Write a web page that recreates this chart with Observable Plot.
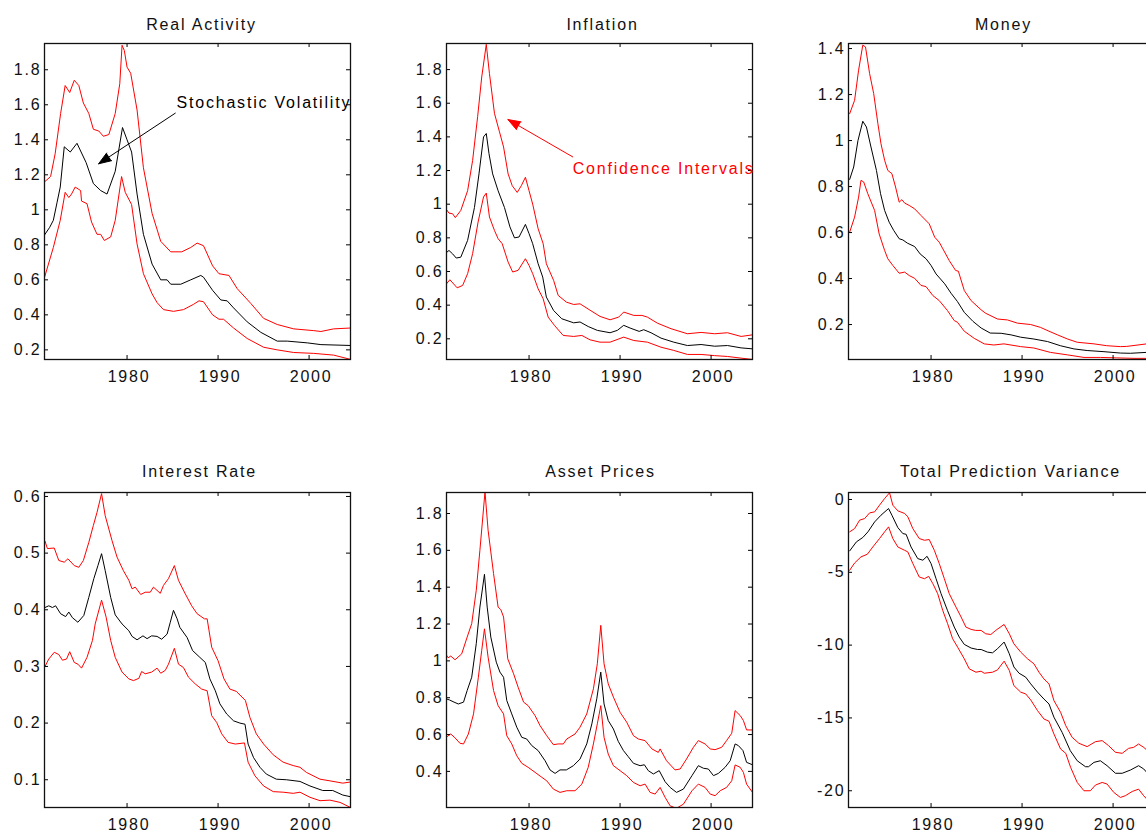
<!DOCTYPE html>
<html><head><meta charset="utf-8">
<script src="https://cdn.jsdelivr.net/npm/d3@7"></script>
<script src="https://cdn.jsdelivr.net/npm/@observablehq/plot@0.6"></script>
<style>
html,body{margin:0;padding:0;background:#fff;overflow:hidden;width:1146px;height:834px}
#chart{position:relative;width:1146px;height:834px;overflow:hidden;background:#fff}
.panel{position:absolute}
.panel svg text{letter-spacing:1.8px}
</style></head><body><div id="chart"></div>
<script>
// ---------- tick labels ----------
const xTicks = [1980, 1990, 2000];
const xDomain = [1970.93, 2004.55];

// ---------- titles ----------
const titles = ["Real Activity", "Inflation", "Money", "Interest Rate", "Asset Prices", "Total Prediction Variance"];

// ---------- Real Activity ----------
const realActivityTicks = [0.2, 0.4, 0.6, 0.8, 1, 1.2, 1.4, 1.6, 1.8];
const realActivityMedian = [[1970.94,0.857],[1971.5,0.9],[1971.9,0.94],[1972.3,1.04],[1972.66,1.13],[1973.1,1.36],[1973.76,1.33],[1974.5,1.38],[1975.5,1.27],[1976.3,1.15],[1977.1,1.11],[1977.8,1.09],[1978.7,1.22],[1979.5,1.47],[1980,1.40],[1980.5,1.33],[1981.1,1.09],[1981.8,0.86],[1982.75,0.69],[1983.7,0.60],[1984.4,0.60],[1984.8,0.575],[1985.9,0.575],[1987,0.60],[1988.1,0.625],[1988.4,0.615],[1989.4,0.54],[1990.3,0.485],[1991,0.48],[1991.7,0.44],[1993.2,0.36],[1994.7,0.30],[1996.5,0.25],[1997.6,0.25],[1999.8,0.24],[2001.3,0.23],[2004.6,0.225]];
const realActivityUpper = [[1970.94,1.16],[1971.6,1.19],[1972.1,1.32],[1972.7,1.55],[1973.2,1.71],[1973.7,1.67],[1974.2,1.74],[1974.7,1.71],[1975.2,1.61],[1975.8,1.55],[1976.3,1.46],[1976.9,1.45],[1977.4,1.42],[1978,1.43],[1978.7,1.55],[1979.2,1.72],[1979.45,1.94],[1979.7,1.91],[1980,1.815],[1980.4,1.78],[1981.1,1.57],[1981.8,1.24],[1982.75,0.98],[1983.7,0.82],[1984.8,0.76],[1986,0.76],[1987,0.785],[1987.7,0.81],[1988.4,0.795],[1989.4,0.68],[1990.1,0.635],[1991.2,0.625],[1992.1,0.55],[1993.6,0.465],[1995,0.38],[1996.5,0.345],[1998.3,0.32],[2000.5,0.31],[2001.3,0.305],[2002.7,0.32],[2004.6,0.325]];
const realActivityLower = [[1970.94,0.615],[1971.9,0.785],[1972.66,0.94],[1973.2,1.10],[1973.6,1.07],[1973.9,1.09],[1974.3,1.13],[1974.9,1.11],[1975.0,1.05],[1975.6,1.035],[1976.1,0.93],[1976.7,0.86],[1977.1,0.86],[1977.5,0.825],[1978.2,0.845],[1978.7,0.94],[1979.4,1.19],[1979.8,1.10],[1980.5,1.03],[1981.1,0.805],[1981.8,0.635],[1982.75,0.52],[1983.3,0.47],[1984,0.43],[1985.1,0.42],[1986.2,0.43],[1987.3,0.46],[1987.9,0.48],[1988.4,0.475],[1989.4,0.40],[1990.1,0.375],[1990.6,0.375],[1991.7,0.325],[1993.2,0.265],[1995,0.215],[1996.5,0.20],[1998.3,0.185],[2000.5,0.18],[2002.7,0.17],[2004.6,0.145]];

// ---------- Inflation ----------
const inflationTicks = [0.2, 0.4, 0.6, 0.8, 1, 1.2, 1.4, 1.6, 1.8];
const inflationMedian = [[1970.78,0.706],[1971.2,0.725],[1971.6,0.705],[1972.0,0.68],[1972.5,0.685],[1973.25,0.785],[1974.0,0.98],[1974.5,1.18],[1975.0,1.40],[1975.3,1.42],[1975.6,1.30],[1976.0,1.18],[1976.6,1.08],[1977.3,0.98],[1977.9,0.865],[1978.4,0.80],[1978.9,0.805],[1979.6,0.88],[1980,0.825],[1980.4,0.765],[1981,0.646],[1981.5,0.567],[1981.9,0.448],[1982.7,0.368],[1983.6,0.319],[1984.9,0.295],[1985.6,0.30],[1986.5,0.273],[1987.5,0.25],[1988.9,0.236],[1989.7,0.25],[1990.4,0.28],[1991.1,0.264],[1992.1,0.244],[1992.6,0.254],[1993.4,0.236],[1994.5,0.204],[1995.9,0.18],[1997.4,0.16],[1998.9,0.166],[2000.4,0.156],[2001.8,0.16],[2003.3,0.146],[2004.6,0.14]];
const inflationUpper = [[1970.78,0.98],[1971.2,0.947],[1971.6,0.943],[1971.9,0.92],[1972.5,0.963],[1973.25,1.08],[1973.8,1.26],[1974.35,1.52],[1974.8,1.756],[1975.3,1.95],[1975.65,1.776],[1976.2,1.54],[1976.75,1.43],[1977.2,1.34],[1977.7,1.18],[1978.15,1.11],[1978.7,1.07],[1979.15,1.11],[1979.6,1.16],[1980,1.08],[1980.4,1.00],[1981,0.854],[1981.55,0.765],[1981.9,0.646],[1982.7,0.547],[1983.2,0.458],[1984.1,0.418],[1984.9,0.404],[1985.6,0.408],[1986.7,0.37],[1987.8,0.333],[1988.9,0.313],[1989.85,0.329],[1990.4,0.359],[1991.5,0.339],[1992.4,0.339],[1993,0.329],[1994.1,0.293],[1995.6,0.26],[1997.4,0.23],[1998.9,0.238],[2000.4,0.23],[2001.8,0.236],[2003.3,0.214],[2004.6,0.224]];
const inflationLower = [[1970.78,0.517],[1971.3,0.551],[1972.1,0.503],[1972.7,0.517],[1973.25,0.587],[1973.8,0.706],[1974.4,0.894],[1975.0,1.043],[1975.3,1.066],[1975.65,0.924],[1976.2,0.844],[1976.6,0.795],[1977.05,0.765],[1977.7,0.656],[1978.2,0.597],[1978.8,0.607],[1979.6,0.676],[1980,0.636],[1980.4,0.587],[1981,0.497],[1981.55,0.438],[1982.1,0.329],[1982.8,0.279],[1983.75,0.22],[1984.9,0.214],[1985.8,0.22],[1986.7,0.194],[1987.8,0.18],[1988.9,0.18],[1990.4,0.21],[1991.5,0.19],[1993,0.18],[1994.5,0.15],[1995.9,0.131],[1997.4,0.107],[1998.9,0.107],[2000.4,0.10],[2001.8,0.095],[2003.3,0.085],[2004.6,0.077]];

// ---------- Money ----------
const moneyTicks = [0.2, 0.4, 0.6, 0.8, 1, 1.2, 1.4];
const moneyMedian = [[1971.06,0.831],[1971.5,0.885],[1971.97,1.0],[1972.5,1.084],[1972.9,1.059],[1973.4,0.972],[1974,0.87],[1974.45,0.769],[1974.9,0.696],[1975.4,0.645],[1975.9,0.609],[1976.5,0.573],[1976.9,0.568],[1977.4,0.554],[1978.2,0.539],[1978.8,0.507],[1979.45,0.486],[1980,0.457],[1980.55,0.42],[1981.5,0.377],[1982.2,0.336],[1982.9,0.30],[1983.65,0.253],[1984.6,0.214],[1985.5,0.185],[1986.5,0.163],[1987.7,0.162],[1988.8,0.155],[1989.85,0.145],[1991.3,0.137],[1992.8,0.126],[1994.2,0.108],[1995.7,0.094],[1997.15,0.087],[1999,0.082],[2000.8,0.076],[2001.9,0.075],[2003.7,0.079],[2004.55,0.08]];
const moneyUpper = [[1971.06,1.117],[1971.6,1.175],[1972.04,1.306],[1972.5,1.415],[1972.8,1.407],[1973.25,1.291],[1973.7,1.204],[1974.16,1.073],[1974.5,0.986],[1974.9,0.914],[1975.25,0.87],[1975.7,0.856],[1976.1,0.798],[1976.5,0.732],[1976.8,0.743],[1977.1,0.728],[1977.6,0.718],[1978.2,0.703],[1978.9,0.674],[1979.8,0.638],[1980.4,0.58],[1980.9,0.558],[1981.3,0.529],[1982,0.478],[1982.7,0.435],[1983,0.432],[1983.65,0.348],[1984.4,0.304],[1985.5,0.264],[1986,0.249],[1987.3,0.224],[1988.4,0.22],[1989.5,0.206],[1990.95,0.2],[1992,0.188],[1992.96,0.171],[1993.9,0.155],[1995,0.137],[1996.06,0.123],[1997.9,0.116],[1999.3,0.108],[2000.8,0.104],[2001.5,0.105],[2003.7,0.116],[2004.55,0.118]];
const moneyLower = [[1971.06,0.602],[1971.6,0.667],[1972.04,0.754],[1972.3,0.827],[1972.6,0.82],[1973.05,0.769],[1973.8,0.696],[1974.3,0.594],[1974.9,0.522],[1975.25,0.486],[1975.8,0.457],[1976.5,0.423],[1977.1,0.428],[1977.6,0.413],[1978.2,0.401],[1978.9,0.37],[1979.45,0.365],[1980.2,0.326],[1980.9,0.304],[1981.8,0.261],[1982.55,0.217],[1982.9,0.21],[1983.65,0.171],[1984.74,0.14],[1985.84,0.116],[1986.9,0.111],[1988,0.116],[1989.85,0.104],[1991.3,0.098],[1993.1,0.079],[1995,0.068],[1996.8,0.057],[1998.6,0.057],[2000.4,0.055],[2002.3,0.053],[2003.7,0.053],[2004.55,0.052]];

// ---------- Interest Rate ----------
const interestTicks = [0.1, 0.2, 0.3, 0.4, 0.5, 0.6];
const interestMedian = [[1970.99,0.404],[1971.4,0.407],[1971.8,0.404],[1972.15,0.407],[1972.7,0.393],[1973.25,0.388],[1973.6,0.396],[1974,0.386],[1974.6,0.378],[1975.25,0.39],[1975.8,0.422],[1976.35,0.455],[1976.8,0.478],[1977.2,0.499],[1977.6,0.469],[1978.2,0.422],[1978.7,0.391],[1979.45,0.375],[1980.2,0.363],[1980.55,0.353],[1981.1,0.347],[1981.75,0.354],[1982.2,0.349],[1982.7,0.354],[1983.3,0.353],[1983.8,0.348],[1984.4,0.357],[1984.75,0.378],[1985.1,0.399],[1985.5,0.384],[1985.8,0.369],[1986.6,0.351],[1987.2,0.328],[1988,0.316],[1988.6,0.307],[1989.1,0.278],[1989.7,0.257],[1990.2,0.234],[1990.95,0.216],[1991.7,0.204],[1992.4,0.2],[1992.96,0.198],[1993.3,0.163],[1993.9,0.139],[1994.6,0.122],[1995.3,0.11],[1996.4,0.101],[1997.5,0.1],[1999,0.097],[2000.1,0.089],[2001.5,0.081],[2002.6,0.081],[2003.7,0.073],[2004.55,0.07]];
const interestUpper = [[1970.99,0.521],[1971.25,0.508],[1972,0.509],[1972.5,0.487],[1973.1,0.484],[1973.5,0.49],[1974.2,0.478],[1974.7,0.475],[1975.2,0.487],[1975.8,0.519],[1976.3,0.549],[1976.7,0.572],[1977.2,0.605],[1977.6,0.566],[1978.35,0.522],[1978.9,0.493],[1979.6,0.469],[1980.2,0.452],[1980.55,0.437],[1980.9,0.44],[1981.5,0.427],[1982,0.431],[1982.55,0.431],[1982.9,0.44],[1983.65,0.429],[1984,0.443],[1984.55,0.455],[1985.2,0.478],[1985.65,0.452],[1986.4,0.428],[1987.1,0.407],[1987.7,0.393],[1988.5,0.384],[1988.8,0.384],[1989.3,0.334],[1990,0.31],[1990.65,0.278],[1991.3,0.26],[1992,0.256],[1993,0.24],[1993.5,0.21],[1994.2,0.181],[1995,0.163],[1996.06,0.144],[1997.15,0.131],[1998.25,0.125],[1999,0.122],[1999.7,0.113],[2001.2,0.101],[2002.3,0.098],[2003.7,0.094],[2004.55,0.096]];
const interestLower = [[1970.99,0.30],[1971.4,0.313],[1972,0.325],[1972.5,0.321],[1972.9,0.311],[1973.35,0.313],[1973.7,0.326],[1974.2,0.307],[1974.6,0.304],[1975,0.297],[1975.6,0.316],[1976.2,0.346],[1976.5,0.375],[1977.2,0.417],[1977.7,0.387],[1978.2,0.346],[1978.7,0.316],[1979.45,0.29],[1980.2,0.278],[1980.7,0.275],[1981.3,0.279],[1981.6,0.291],[1982,0.287],[1982.7,0.29],[1983.3,0.297],[1983.7,0.288],[1984.2,0.293],[1984.55,0.304],[1985.2,0.332],[1985.65,0.304],[1986.2,0.298],[1986.75,0.281],[1987.5,0.269],[1988.2,0.26],[1988.8,0.257],[1989.3,0.213],[1989.85,0.201],[1990.4,0.181],[1991.1,0.166],[1991.9,0.163],[1992.9,0.165],[1993.3,0.131],[1994.05,0.107],[1995,0.089],[1996.06,0.079],[1997.15,0.078],[1998.25,0.076],[1999,0.078],[2000.1,0.069],[2001.2,0.063],[2002.3,0.064],[2003.4,0.06],[2004.55,0.051]];

// ---------- Asset Prices ----------
const assetTicks = [0.4, 0.6, 0.8, 1, 1.2, 1.4, 1.6, 1.8];
const assetMedian = [[1970.88,0.794],[1971.25,0.788],[1971.76,0.776],[1972.23,0.766],[1972.8,0.776],[1973.2,0.839],[1973.7,0.911],[1974.2,1.093],[1974.6,1.292],[1975.1,1.47],[1975.4,1.292],[1975.8,1.129],[1976.4,0.993],[1976.8,0.939],[1977.2,0.911],[1977.55,0.785],[1978.1,0.712],[1978.65,0.64],[1979.2,0.585],[1979.74,0.576],[1980.3,0.54],[1981,0.513],[1981.76,0.458],[1982.3,0.408],[1982.86,0.389],[1983.4,0.408],[1984.1,0.408],[1984.87,0.431],[1985.6,0.467],[1986.34,0.549],[1986.9,0.658],[1987.44,0.794],[1987.88,0.939],[1988.24,0.766],[1988.7,0.676],[1989.27,0.63],[1989.8,0.563],[1990.37,0.513],[1990.9,0.48],[1991.47,0.444],[1992.2,0.431],[1992.67,0.436],[1993.1,0.404],[1993.66,0.386],[1994.3,0.404],[1994.95,0.344],[1995.5,0.313],[1996.2,0.286],[1996.96,0.304],[1997.9,0.377],[1998.6,0.431],[1999.16,0.417],[1999.7,0.413],[2000.26,0.377],[2000.8,0.389],[2001.54,0.422],[2002.1,0.458],[2002.64,0.549],[2003,0.54],[2003.5,0.513],[2003.9,0.449],[2004.55,0.436]];
const assetUpper = [[1970.88,1.035],[1971.1,1.017],[1971.4,1.026],[1971.87,1.006],[1972.6,1.038],[1973.2,1.129],[1973.7,1.202],[1974.2,1.383],[1974.6,1.60],[1975.16,1.918],[1975.5,1.709],[1976.1,1.474],[1976.6,1.292],[1976.9,1.278],[1977.2,1.238],[1977.66,1.011],[1978.3,0.93],[1978.8,0.857],[1979.4,0.776],[1979.9,0.757],[1980.66,0.703],[1981.2,0.649],[1981.94,0.594],[1982.67,0.545],[1983.2,0.549],[1983.77,0.549],[1984.14,0.576],[1985.05,0.603],[1985.6,0.64],[1986.34,0.712],[1987.07,0.848],[1987.5,0.984],[1987.88,1.193],[1988.24,0.984],[1988.7,0.875],[1989.27,0.803],[1990,0.721],[1990.73,0.667],[1991.47,0.594],[1992,0.576],[1992.75,0.567],[1993.5,0.522],[1994.2,0.503],[1994.4,0.522],[1995.1,0.458],[1996.04,0.408],[1996.6,0.413],[1997.3,0.467],[1998.06,0.531],[1998.6,0.567],[1999.34,0.549],[1999.9,0.522],[2000.44,0.518],[2001.17,0.531],[2001.7,0.567],[2002.27,0.607],[2002.64,0.73],[2003.2,0.703],[2003.55,0.676],[2003.9,0.625],[2004.55,0.625]];
const assetLower = [[1970.88,0.585],[1971.4,0.603],[1971.87,0.582],[1972.4,0.553],[1972.8,0.549],[1973.33,0.603],[1973.9,0.712],[1974.43,0.911],[1974.8,1.057],[1975.1,1.174],[1975.5,1.02],[1976.1,0.839],[1976.6,0.757],[1977.2,0.712],[1977.55,0.594],[1978.1,0.549],[1978.65,0.485],[1979.2,0.444],[1979.9,0.422],[1980.66,0.395],[1981.4,0.368],[1981.94,0.349],[1982.67,0.304],[1983.4,0.286],[1984.14,0.295],[1985.05,0.295],[1985.8,0.331],[1986.5,0.422],[1987.07,0.549],[1987.5,0.658],[1987.88,0.757],[1988.24,0.585],[1988.7,0.494],[1989.27,0.431],[1990,0.404],[1990.73,0.377],[1991.47,0.34],[1992.2,0.322],[1992.75,0.331],[1993.3,0.286],[1993.85,0.277],[1994.4,0.313],[1994.95,0.259],[1995.5,0.213],[1996.2,0.2],[1996.96,0.222],[1997.9,0.295],[1998.6,0.331],[1999.34,0.313],[1999.9,0.277],[2000.44,0.268],[2001,0.295],[2001.7,0.313],[2002.27,0.349],[2002.64,0.435],[2003.2,0.422],[2003.55,0.395],[2003.9,0.331],[2004.55,0.286]];

// ---------- Total Prediction Variance ----------
const varianceTicks = [-20, -15, -10, -5, 0];
const varianceMedian = [[1971.06,-3.53],[1971.8,-2.91],[1972.5,-2.61],[1973.07,-2.22],[1973.8,-1.54],[1974.5,-1.08],[1975.33,-0.62],[1975.7,-1.08],[1976.35,-1.93],[1976.9,-2.34],[1977.26,-2.39],[1977.8,-3.26],[1978.54,-4.06],[1979.1,-4.17],[1979.56,-3.9],[1980,-4.4],[1980.55,-5.44],[1981.1,-6.47],[1981.8,-7.61],[1982.55,-8.76],[1983.1,-9.45],[1983.65,-9.95],[1984.4,-10.2],[1985.1,-10.3],[1985.5,-10.3],[1986.2,-10.48],[1986.75,-10.53],[1987.3,-10.25],[1988.03,-9.79],[1988.6,-10.6],[1989.1,-11.5],[1989.67,-11.93],[1990.4,-12.2],[1990.95,-12.66],[1991.7,-13.23],[1992.4,-13.7],[1992.96,-14.04],[1993.5,-14.95],[1994.4,-15.99],[1995.3,-17.25],[1996.06,-17.94],[1996.97,-18.35],[1997.3,-18.35],[1997.9,-18.05],[1998.6,-17.94],[1999.34,-18.28],[2000.26,-18.8],[2001,-18.8],[2001.9,-18.58],[2002.8,-18.28],[2003.36,-18.5],[2003.7,-18.74],[2004.55,-19.1]];
const varianceUpper = [[1971.06,-2.22],[1971.6,-2.0],[1972.15,-1.42],[1972.7,-1.31],[1973.25,-0.92],[1973.8,-0.85],[1974.34,-0.39],[1974.9,0.07],[1975.44,0.46],[1975.8,-0.39],[1976.35,-0.78],[1977.1,-0.96],[1977.45,-1.19],[1978,-2.0],[1978.7,-2.68],[1979.27,-2.8],[1979.8,-2.75],[1980.36,-3.49],[1980.9,-4.4],[1981.46,-5.44],[1982,-6.47],[1982.74,-7.39],[1983.3,-8.07],[1983.83,-8.76],[1984.4,-8.92],[1984.9,-8.99],[1985.5,-8.99],[1986,-9.22],[1986.57,-9.27],[1987.1,-8.99],[1988.03,-8.58],[1988.6,-9.22],[1989.1,-9.91],[1989.85,-10.48],[1990.6,-10.94],[1991.3,-11.28],[1991.86,-11.86],[1992.4,-12.32],[1992.96,-12.66],[1993.5,-13.81],[1994.23,-14.61],[1994.8,-15.53],[1995.5,-16.33],[1996.24,-16.74],[1997.15,-16.97],[1998.06,-16.63],[1998.8,-16.56],[1999.5,-16.9],[2000.26,-17.36],[2001,-17.43],[2001.7,-17.09],[2002.26,-17.02],[2002.8,-16.79],[2003.36,-17.02],[2003.7,-17.2],[2004.55,-17.5]];
const varianceLower = [[1971.06,-4.86],[1971.6,-4.36],[1972.3,-3.94],[1973,-3.76],[1973.6,-3.26],[1974.34,-2.68],[1974.9,-2.22],[1975.33,-1.88],[1975.8,-2.68],[1976.35,-3.26],[1977.1,-3.49],[1977.45,-3.6],[1978,-4.4],[1978.7,-5.32],[1979.27,-5.44],[1979.74,-5.28],[1980.2,-5.78],[1980.73,-6.47],[1981.28,-7.61],[1981.82,-8.53],[1982.37,-9.56],[1982.92,-10.14],[1983.65,-10.94],[1984.2,-11.63],[1984.93,-11.86],[1985.5,-11.79],[1985.84,-11.93],[1986.75,-11.86],[1987.3,-11.7],[1988.03,-11.1],[1988.6,-11.74],[1989.1,-12.78],[1989.85,-13.23],[1990.4,-13.35],[1990.95,-13.76],[1991.7,-14.5],[1992.4,-15.07],[1992.96,-15.23],[1993.5,-16.1],[1994.23,-17.13],[1994.8,-17.43],[1995.33,-18.39],[1996.06,-19.43],[1996.8,-20.0],[1997.5,-20.0],[1998.06,-19.61],[1998.8,-19.43],[1999.34,-19.54],[2000.07,-20.11],[2000.8,-20.46],[2001.35,-20.34],[2002.1,-20.05],[2002.8,-19.89],[2003.36,-20.34],[2003.7,-20.57],[2004.55,-20.9]];

// ---------- annotations ----------
const stochVolLabel = [{x: 1985.43, y: 1.612, text: "Stochastic Volatility"}];
const stochVolArrow = [{x1: 1985.3, y1: 1.552, x2: 1976.88, y2: 1.263}];
const confLabel = [{x: 1984.8, y: 1.2075, text: "Confidence Intervals"}];
const confArrow = [{x1: 1984.8, y1: 1.281, x2: 1977.68, y2: 1.503}];

const fmt = d => String(d);
const FONT = "'Liberation Sans', Arial, Helvetica, sans-serif";

const panels = [
  {title: titles[0], left: 0, top: 0, row: 0, yDomain: [0.145, 1.95], yTicks: realActivityTicks,
   median: realActivityMedian, upper: realActivityUpper, lower: realActivityLower, titleDx: 4,
   extra: [
     Plot.arrow(stochVolArrow, {x1: "x1", y1: "y1", x2: "x2", y2: "y2", stroke: "black", fill: "black", strokeWidth: 1, headLength: 20, headAngle: 40}),
     Plot.text(stochVolLabel, {x: "x", y: "y", text: "text", textAnchor: "start", lineAnchor: "middle", fill: "black", fontSize: 16})
   ]},
  {title: titles[1], left: 402, top: 0, row: 0, yDomain: [0.077, 1.955], yTicks: inflationTicks,
   median: inflationMedian, upper: inflationUpper, lower: inflationLower, titleDx: 3,
   extra: [
     Plot.arrow(confArrow, {x1: "x1", y1: "y1", x2: "x2", y2: "y2", stroke: "#ff0000", fill: "#ff0000", strokeWidth: 1, headLength: 20, headAngle: 40}),
     Plot.text(confLabel, {x: "x", y: "y", text: "text", textAnchor: "start", lineAnchor: "middle", fill: "#ff0000", fontSize: 16})
   ]},
  {title: titles[2], left: 804, top: 0, row: 0, yDomain: [0.048, 1.422], yTicks: moneyTicks,
   median: moneyMedian, upper: moneyUpper, lower: moneyLower, titleDx: 2, extra: []},
  {title: titles[3], left: 0, top: 449, row: 1, yDomain: [0.051, 0.607], yTicks: interestTicks,
   median: interestMedian, upper: interestUpper, lower: interestLower, titleDx: 2, extra: []},
  {title: titles[4], left: 402, top: 449, row: 1, yDomain: [0.204, 1.914], yTicks: assetTicks,
   median: assetMedian, upper: assetUpper, lower: assetLower, titleDx: 1, extra: []},
  {title: titles[5], left: 804, top: 449, row: 1, yDomain: [-21.15, 0.48], yTicks: varianceTicks,
   median: varianceMedian, upper: varianceUpper, lower: varianceLower, titleDx: 9, extra: []}
];

const chart = document.getElementById("chart");
for (const cfg of panels) {
  const W = 306, H = cfg.row === 0 ? 316 : 315;
  const mL = 44, mR = 16, mT = 43, mB = 32;
  const width = mL + W + mR, height = mT + H + mB;
  const xy = {x: d => d[0], y: d => d[1]};
  const plot = Plot.plot({
    width, height,
    marginLeft: mL, marginRight: mR, marginTop: mT, marginBottom: mB,
    x: {domain: xDomain, axis: null},
    y: {domain: cfg.yDomain, axis: null},
    style: {fontFamily: FONT, fontSize: "16px", color: "black", background: "white", overflow: "visible", maxWidth: "none"},
    marks: [
      Plot.line(cfg.lower, {...xy, stroke: "#ff0000", strokeWidth: 1, clip: true}),
      Plot.line(cfg.upper, {...xy, stroke: "#ff0000", strokeWidth: 1, clip: true}),
      Plot.line(cfg.median, {...xy, stroke: "black", strokeWidth: 1, clip: true}),
      Plot.ruleY(cfg.yTicks, {y: d => d, insetRight: W - 4, stroke: "black"}),
      Plot.ruleY(cfg.yTicks, {y: d => d, insetLeft: W - 4, stroke: "black"}),
      Plot.ruleX(xTicks, {x: d => d, insetBottom: H - 4, stroke: "black"}),
      Plot.ruleX(xTicks, {x: d => d, insetTop: H - 4, stroke: "black"}),
      Plot.frame({stroke: "#111", strokeWidth: 1.3}),
      Plot.text(cfg.yTicks, {y: d => d, text: fmt, frameAnchor: "left", textAnchor: "end", lineAnchor: "middle", dx: -3, fontSize: 16, fill: "#111"}),
      Plot.text(xTicks, {x: d => d, text: fmt, frameAnchor: "bottom", lineAnchor: "middle", dy: 17, dx: 2, fontSize: 16, fill: "#111"}),
      Plot.text([cfg.title], {text: d => d, frameAnchor: "top", lineAnchor: "middle", dy: cfg.row === 0 ? -19 : -21, dx: cfg.titleDx, fontSize: 16, fill: "#111"}),
      ...cfg.extra
    ]
  });
  const div = document.createElement("div");
  div.className = "panel";
  div.style.left = cfg.left + "px";
  div.style.top = cfg.top + "px";
  div.style.width = width + "px";
  div.style.height = height + "px";
  div.appendChild(plot);
  chart.appendChild(div);
}
</script></body></html>
